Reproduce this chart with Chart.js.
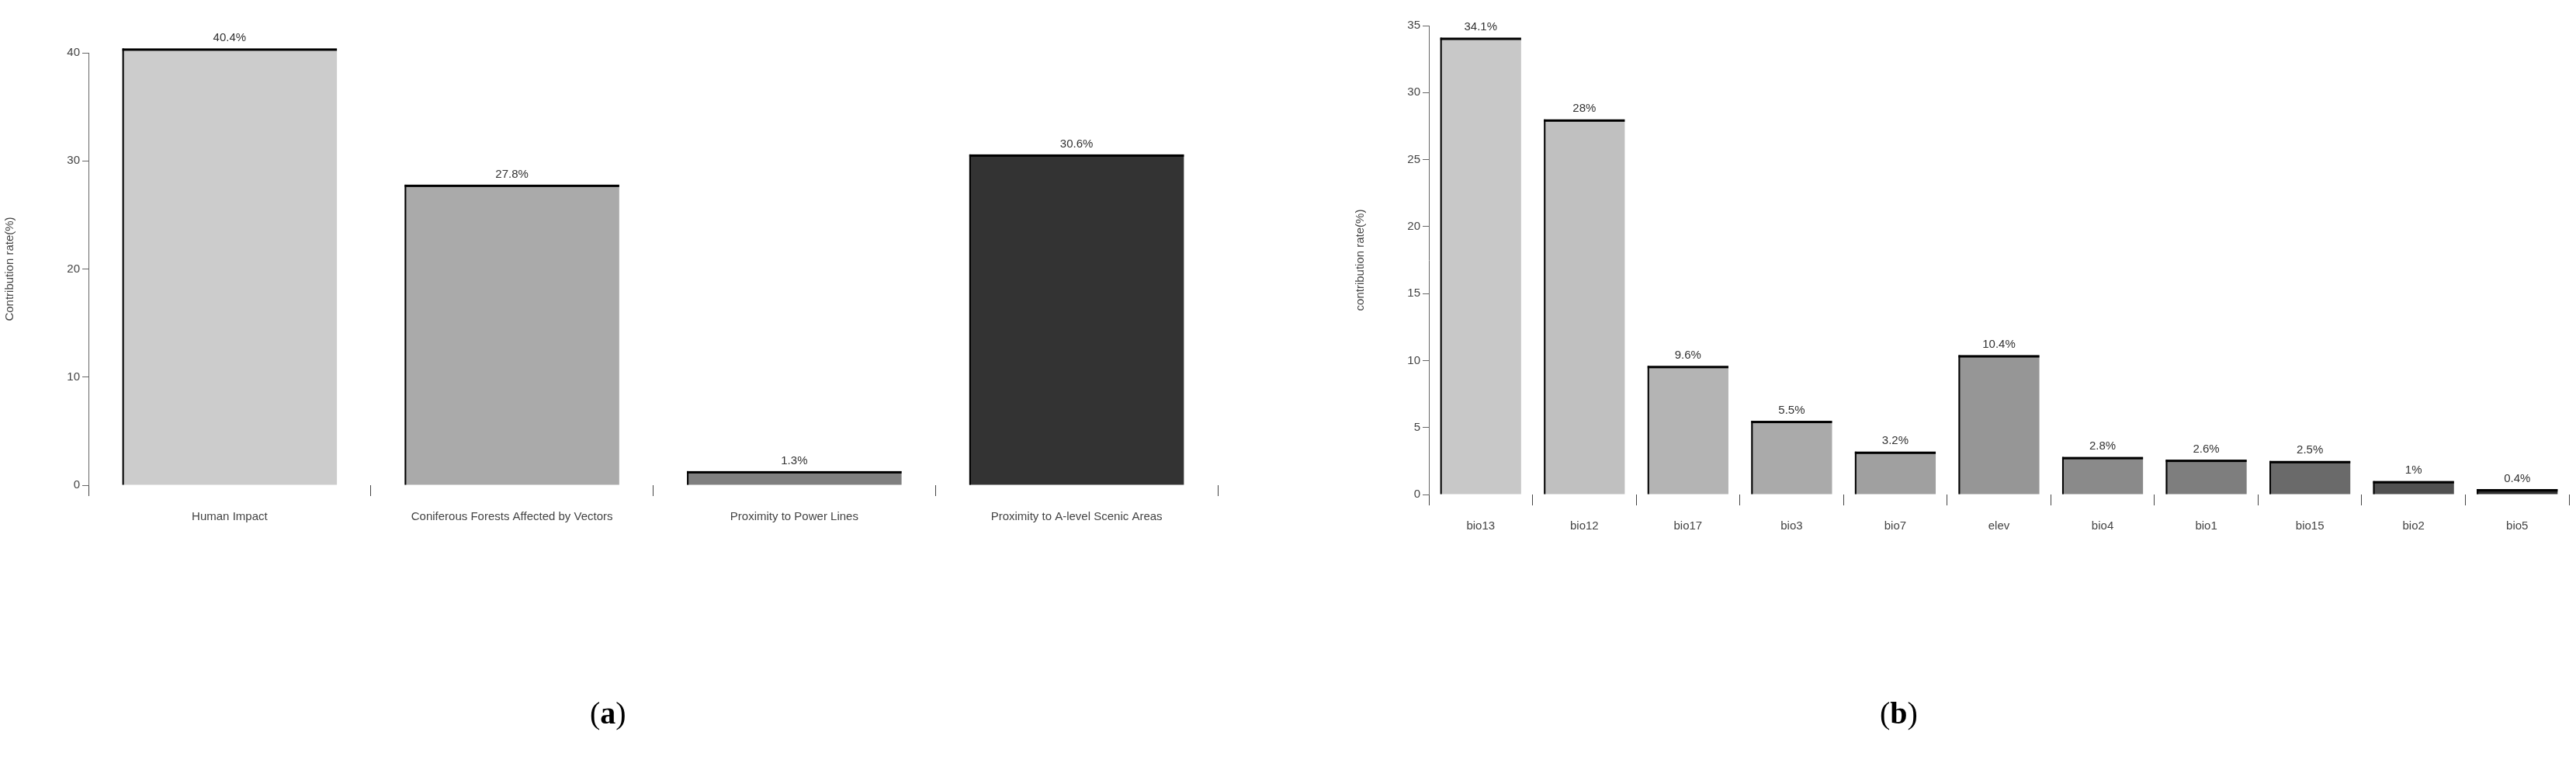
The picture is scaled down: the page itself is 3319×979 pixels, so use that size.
<!DOCTYPE html>
<html><head><meta charset="utf-8">
<script src="https://cdn.jsdelivr.net/npm/chart.js@4"></script>
<style>
body{margin:0;background:#fff;width:3319px;height:979px;position:relative;overflow:hidden}
canvas{position:absolute;top:0}
.lab{position:absolute;top:895px;font:40px "Liberation Serif",serif;color:#000}
</style></head><body>
<canvas id="a" width="1640" height="979" style="left:0;width:1640px;height:979px"></canvas>
<canvas id="b" width="1579" height="979" style="left:1740px;width:1579px;height:979px"></canvas>
<div class="lab" style="left:760px">(<b>a</b>)</div>
<div class="lab" style="left:2422px">(<b>b</b>)</div>
<script>
const catsA=["Human Impact","Coniferous Forests Affected by Vectors","Proximity to Power Lines","Proximity to A-level Scenic Areas"];
const valsA=[40.4,27.8,1.3,30.6];
const labelsA=["40.4%","27.8%","1.3%","30.6%"];
const colorsA=["#cccccc","#aaaaaa","#808080","#333333"];
const catsB=["bio13","bio12","bio17","bio3","bio7","elev","bio4","bio1","bio15","bio2","bio5"];
const valsB=[34.1,28,9.6,5.5,3.2,10.4,2.8,2.6,2.5,1.0,0.4];
const labelsB=["34.1%","28%","9.6%","5.5%","3.2%","10.4%","2.8%","2.6%","2.5%","1%","0.4%"];
const colorsB=["#c8c8c8","#c0c0c0","#b4b4b4","#aaaaaa","#a0a0a0","#969696","#8a8a8a","#7e7e7e","#6a6a6a","#505050","#303030"];
const valLabel={id:'vl',afterDatasetsDraw(c){const ctx=c.ctx;const meta=c.getDatasetMeta(0);const L=c.options.plugins.vl.labels;
ctx.save();ctx.fillStyle='#333';ctx.font='15px "Liberation Sans",Arial';ctx.textAlign='center';ctx.textBaseline='bottom';
meta.data.forEach((b,i)=>{ctx.fillText(L[i],b.x,b.y-6);
ctx.fillStyle='#000';ctx.fillRect(b.x-b.width/2,b.y,b.width,3);ctx.fillRect(b.x-b.width/2,b.y,2,b.base-b.y);ctx.fillStyle='#333';});ctx.restore();}};
function mk(id,cats,vals,cols,labs,max,step,yw,xh,rp,tp,title,bp){
new Chart(document.getElementById(id),{type:'bar',data:{labels:cats,datasets:[{data:vals,backgroundColor:cols,barPercentage:bp,categoryPercentage:1,clip:false}]},
plugins:[valLabel],
options:{responsive:false,animation:false,layout:{padding:{top:tp,right:rp,left:0,bottom:0}},
plugins:{legend:{display:false},tooltip:{enabled:false},vl:{labels:labs}},
scales:{x:{grid:{display:true,drawOnChartArea:false,tickLength:14,color:'#444'},border:{display:false},
ticks:{color:'#444',font:{size:15,family:'"Liberation Sans",Arial'},padding:18,maxRotation:0},afterFit(s){s.height=xh;}},
y:{min:0,max:max,ticks:{stepSize:step,color:'#444',font:{size:15,family:'"Liberation Sans",Arial'}},grid:{display:true,drawOnChartArea:false,tickLength:8,color:'#666'},
border:{display:true,color:'#666'},title:{display:true,text:title,color:'#444',font:{size:15,family:'"Liberation Sans",Arial'}},afterFit(s){s.width=yw;}}}}});}
mk('a',catsA,valsA,colorsA,labelsA,40,10,114,354,71,68,'Contribution rate(%)',0.76);
mk('b',catsB,valsB,colorsB,labelsB,35,5,101,342,9,33,'contribution rate(%)',0.78);
</script></body></html>
